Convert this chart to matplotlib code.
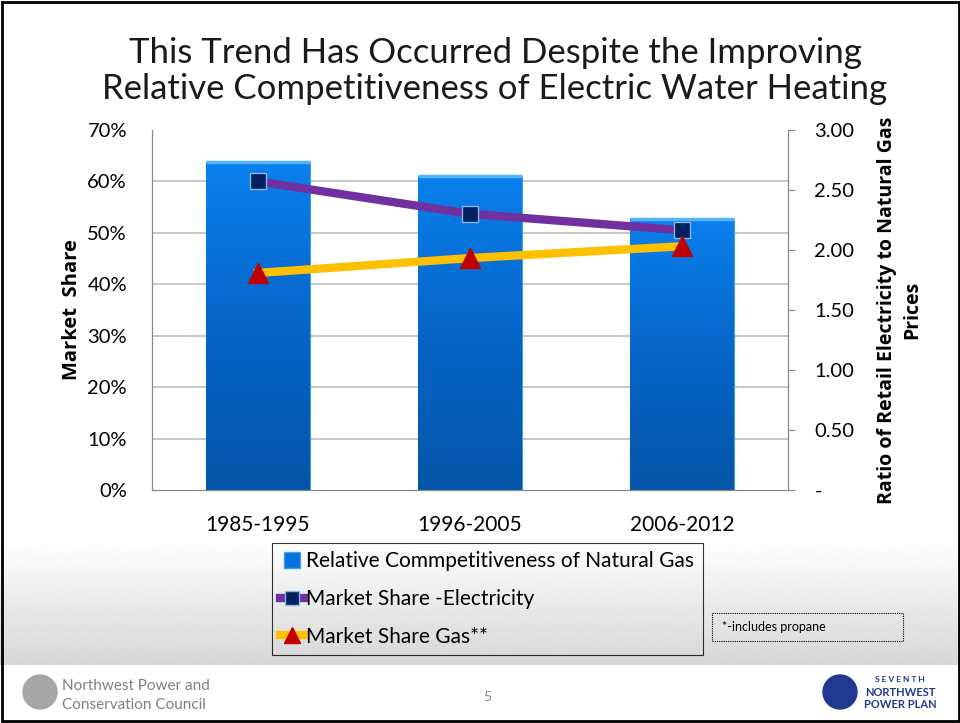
import matplotlib
matplotlib.use('Agg')
import matplotlib.pyplot as plt
from matplotlib.lines import Line2D
from matplotlib.patches import Rectangle, Circle
from matplotlib.ticker import FuncFormatter
import numpy as np

plt.rcParams['font.family'] = ['Lato', 'DejaVu Sans']

categories = ['1985-1995', '1996-2005', '2006-2012']
ratio_gas = [2.73, 2.62, 2.26]          # right axis, bars
share_elec = [0.600, 0.537, 0.505]      # left axis
share_gas = [0.422, 0.451, 0.474]       # left axis

title = 'This Trend Has Occurred Despite the Improving\nRelative Competitiveness of Electric Water Heating'
legend_labels = ['Relative Commpetitiveness of Natural Gas',
                 'Market Share -Electricity',
                 'Market Share Gas**']

W, H = 960, 723
fig = plt.figure(figsize=(W / 100, H / 100), dpi=100)

# slide background: white with gray gradient band near the bottom
bg = fig.add_axes([0, 0, 1, 1], zorder=-10)
bg.set_xlim(0, W)
bg.set_ylim(H, 0)
bg.axis('off')
grad = np.linspace(1.0, 0.84, 200).reshape(-1, 1)
bg.imshow(grad, cmap='gray', vmin=0, vmax=1, extent=[0, W, 665, 540], aspect='auto')
bg.add_patch(Rectangle((1.5, 1.5), W - 3, H - 4, fill=False, ec='black', lw=2))

# chart axes
ax = fig.add_axes([152 / W, 1 - 490 / H, 636 / W, 360 / H])
ax2 = ax.twinx()
x = np.arange(len(categories))

bars = ax2.bar(x, ratio_gas, width=0.49, color='#0672DA', edgecolor='#3FA0F0', lw=0.8, zorder=2)
blue_cmap = matplotlib.colors.LinearSegmentedColormap.from_list(
    'bl', ['#0556A8', '#0665C8', '#0A80EC'])
blue_grad = np.linspace(0, 1, 100).reshape(-1, 1)
for b in bars:
    x0, y0, w, h = b.get_x(), b.get_y(), b.get_width(), b.get_height()
    im = ax2.imshow(blue_grad, cmap=blue_cmap, origin='lower',
                    extent=[x0, x0 + w, y0, y0 + h], aspect='auto', zorder=2.5)
    im.set_clip_path(b)
    ax2.plot([x0, x0 + w], [y0 + h, y0 + h], color='#55B4F8', lw=2.5, zorder=3,
             solid_capstyle='butt')

ax2.set_ylim(0, 3.0)
ax2.set_yticks(np.arange(0, 3.01, 0.5))
ax2.yaxis.set_major_formatter(FuncFormatter(lambda v, p: '-' if v == 0 else f'{v:.2f}'))
ax2.set_yticks(np.arange(1, 7) * 3.0 / 7, minor=True)
ax2.grid(which='minor', axis='y', color='#BFBFBF', lw=1.2, zorder=0)
ax2.tick_params(axis='y', which='minor', length=0)
ax2.tick_params(axis='y', which='major', direction='out', length=5, color='#888888',
                labelsize=14.5, pad=14)
ax2.set_xlim(-0.5, 2.5)
ax2.set_ylabel('Ratio of Retail Electricity to Natural Gas\nPrices', fontsize=14,
               fontweight='bold', family=['Open Sans', 'DejaVu Sans'], labelpad=16,
               linespacing=1.35)

# lines on top
ax.set_zorder(ax2.get_zorder() + 1)
ax.patch.set_visible(False)
ax.plot(x, share_elec, color='#7030A0', lw=6, marker='s', ms=11.5,
        mfc='#002060', mec='#8DB4E2', mew=1, zorder=5)
ax.plot(x, share_gas, color='#FFC000', lw=6, marker='^', ms=15,
        mfc='#C00000', mec='#C00000', zorder=5)
ax.set_ylim(0, 0.7)
ax.set_xlim(-0.5, 2.5)
ax.set_yticks(np.arange(0, 0.71, 0.1))
ax.yaxis.set_major_formatter(FuncFormatter(lambda v, p: f'{v * 100:.0f}%'))
ax.set_xticks(x)
ax.set_xticklabels(categories)
ax.tick_params(axis='y', length=0, labelsize=14.5, pad=18)
ax.tick_params(axis='x', length=0, labelsize=15, pad=18)
ax.set_ylabel('Market  Share', fontsize=14.5, fontweight='bold',
              family=['Open Sans', 'DejaVu Sans'], labelpad=4)

for a in (ax, ax2):
    for s in a.spines.values():
        s.set_color('#888888')
    a.spines['top'].set_visible(False)

# title
fig.text(495 / W, 1 - 71 / H, title, ha='center', va='center', fontsize=25,
         fontweight='normal', linespacing=1.12, color='#1a1a1a')

# legend
handles = [
    Line2D([], [], ls='none', marker='s', ms=12, mfc='#0672DA', mec='#3FA0F0'),
    Line2D([], [], color='#7030A0', lw=6, marker='s', ms=10, mfc='#002060', mec='#8DB4E2'),
    Line2D([], [], color='#FFC000', lw=6, marker='^', ms=12, mfc='#C00000', mec='#C00000'),
]
leg = fig.legend(handles, legend_labels, loc='upper left',
                 bbox_to_anchor=(272 / W, 1 - 543 / H), frameon=True, fontsize=15,
                 handlelength=1.15, handletextpad=0.1, labelspacing=0.85,
                 borderpad=0.4, fancybox=False, borderaxespad=0)
leg.get_frame().set_edgecolor('black')
leg.get_frame().set_linewidth(0.8)
leg.get_frame().set_facecolor('none')

# footnote box
bg.add_patch(Rectangle((712, 613), 191, 28, fill=False, ec='black', lw=0.8, ls=(0, (1, 1))))
bg.text(722, 627, '*-includes propane', fontsize=9, va='center', ha='left')

# footer
bg.text(487, 697, '5', fontsize=10, color='#888888', ha='center', va='center')
bg.add_patch(Circle((40, 692), 17, color='#A6A6A6'))
bg.text(62, 686, 'Northwest Power and', fontsize=11, color='#808080', va='center')
bg.text(62, 705, 'Conservation Council', fontsize=11, color='#808080', va='center')
bg.add_patch(Circle((840, 692), 17, color='#1F3A8F'))
bg.text(900, 680, 'S E V E N T H', fontsize=6, color='#1F3A8F', ha='center',
        va='center', fontweight='bold')
bg.text(900, 692, 'NORTHWEST', fontsize=8, color='#1F3A8F', ha='center',
        va='center', fontweight='bold')
bg.text(900, 704, 'POWER PLAN', fontsize=8, color='#1F3A8F', ha='center',
        va='center', fontweight='bold')

fig.savefig('out.png', dpi=100)
